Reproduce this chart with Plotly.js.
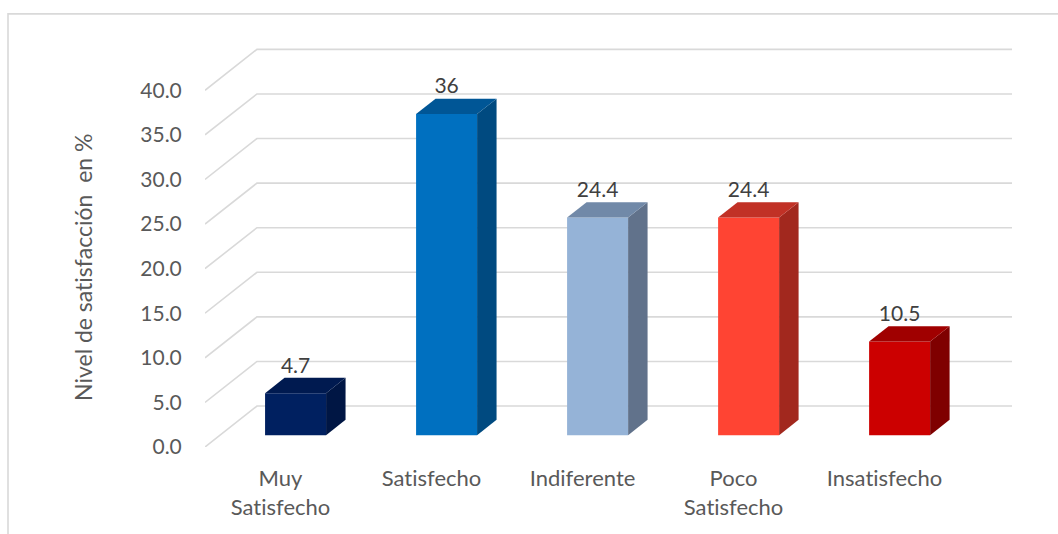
<!DOCTYPE html>
<html>
<head>
<meta charset="utf-8">
<script src="https://cdn.plot.ly/plotly-3.0.1.min.js"></script>
<style>html,body{margin:0;padding:0;background:#fff;}#chart{width:1058px;height:534px;}#chart text{font-variant-ligatures:none;font-feature-settings:"liga" 0;}</style>
</head>
<body>
<div id="chart"></div>
<script>
// ---- data ----
const categories = ["Muy<br>Satisfecho", "Satisfecho", "Indiferente", "Poco<br>Satisfecho", "Insatisfecho"];
const values = [4.7, 36, 24.4, 24.4, 10.5];
const valueLabels = ["4.7", "36", "24.4", "24.4", "10.5"];
const yTickVals = [0, 5, 10, 15, 20, 25, 30, 35, 40];
const yTickText = ["0.0", "5.0", "10.0", "15.0", "20.0", "25.0", "30.0", "35.0", "40.0"];
const yTitle = "Nivel de satisfacción\u00A0 en %";

// ---- styles ----
const frontColors = ["#002060", "#0070C0", "#95B3D7", "#FF4433", "#CC0000"];
const sideColors  = ["#001644", "#004A80", "#61728B", "#A2281E", "#7F0000"];
const topColors   = ["#001A50", "#005696", "#7189A8", "#C13126", "#A00000"];
const font = "Lato, 'Open Sans', sans-serif";
const textGray = "#595959";

// 3D depth geometry (in axis units)
const dX = 0.344;   // horizontal depth shift (category units)
const dY = 4.59;    // vertical depth shift (value units)
const f0 = 0.29, f1 = 0.665; // bar front / back depth fractions
const barW = 0.404;
const yMax = 40;
const yPad = 0.6;

const idx = values.map((v, i) => i);
const traces = [];

// front faces
traces.push({type: "bar", x: idx.map(i => i + f0 * dX), y: values, base: f0 * dY, width: barW,
  marker: {color: frontColors, line: {width: 0}}, hoverinfo: "skip", showlegend: false});

// side & top faces
values.forEach((v, i) => {
  const xl = i + f0 * dX - barW / 2, xr = i + f0 * dX + barW / 2;
  const b0 = f0 * dY, dd = (f1 - f0);
  traces.push({type: "scatter", mode: "none", fill: "toself", fillcolor: sideColors[i],
    x: [xr, xr + dd * dX, xr + dd * dX, xr],
    y: [b0, b0 + dd * dY, b0 + v + dd * dY, b0 + v],
    hoverinfo: "skip", showlegend: false, line: {width: 0}});
  traces.push({type: "scatter", mode: "none", fill: "toself", fillcolor: topColors[i],
    x: [xl, xr, xr + dd * dX, xl + dd * dX],
    y: [b0 + v, b0 + v, b0 + v + dd * dY, b0 + v + dd * dY],
    hoverinfo: "skip", showlegend: false, line: {width: 0}});
});

// data labels
traces.push({type: "scatter", mode: "text", x: idx.map(i => i + f0 * dX),
  y: values.map(v => v + f1 * dY), text: valueLabels, textposition: "top center",
  textfont: {family: font, size: 21, color: "#404040"}, hoverinfo: "skip", showlegend: false, cliponaxis: false});

// gridlines (left side wall diagonal + back wall horizontal) as shapes below traces
const shapes = yTickVals.map(v => ({
  type: "path", xref: "x", yref: "y", layer: "below",
  path: "M " + (-0.5) + " " + v + " L " + (-0.5 + dX) + " " + (v + dY) + " L " + (categories.length - 0.5 + dX) + " " + (v + dY),
  line: {color: "#D9D9D9", width: 1.6}
}));

const L = 205, R = 1012, B = 447;
const pxPerUnit = (447 - 49) / (yMax + dY);
const T = 49 - yPad * pxPerUnit;
shapes.push({type: "path", xref: "paper", yref: "paper", layer: "below",
  path: "M " + ((8 - L) / (R - L)) + " " + ((B - 600) / (B - T)) + " L " + ((8 - L) / (R - L)) + " " + ((B - 13.5) / (B - T)) +
    " L " + ((1100 - L) / (R - L)) + " " + ((B - 13.5) / (B - T)),
  line: {color: "#D9D9D9", width: 1.6}});

const layout = {
  width: 1058, height: 534,
  margin: {l: L, r: 1058 - R, t: T, b: 534 - B, pad: 0},
  paper_bgcolor: "#ffffff", plot_bgcolor: "rgba(0,0,0,0)",
  showlegend: false,
  font: {family: font, color: textGray, size: 21},
  xaxis: {range: [-0.5, categories.length - 0.5 + dX], tickvals: idx, ticktext: categories,
    showgrid: false, zeroline: false, showline: false, ticks: "outside", ticklen: 12,
    tickcolor: "rgba(0,0,0,0)", tickfont: {family: font, size: 22, color: textGray}, fixedrange: true, automargin: false},
  yaxis: {range: [0, yMax + dY + yPad], tickvals: yTickVals, ticktext: yTickText,
    showgrid: false, zeroline: false, showline: false, ticks: "outside", ticklen: 18,
    tickcolor: "rgba(0,0,0,0)", tickfont: {family: font, size: 21, color: textGray}, fixedrange: true, automargin: false},
  annotations: [{text: yTitle, textangle: -90, xref: "paper", yref: "paper",
    x: (83 - L) / (R - L), y: (B - 267) / (B - T), xanchor: "center", yanchor: "middle",
    showarrow: false, font: {family: font, size: 23, color: textGray}}],
  shapes: shapes
};

Plotly.newPlot("chart", traces, layout, {staticPlot: true, displayModeBar: false});
</script>
</body>
</html>
